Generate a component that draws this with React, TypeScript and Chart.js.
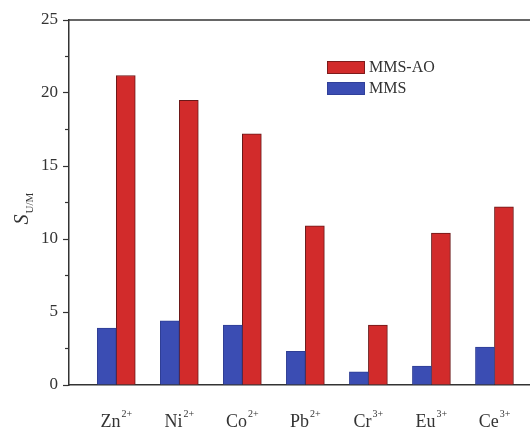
import React, { useEffect, useRef } from "react";
import { Chart, registerables } from "chart.js";

Chart.register(...registerables);

// Metal ions (element symbol + charge shown as superscript)
const metals = ["Zn", "Ni", "Co", "Pb", "Cr", "Eu", "Ce"];
const charges = ["2+", "2+", "2+", "2+", "3+", "3+", "3+"];

// Selectivity coefficients S(U/M)
const mmsValues = [3.9, 4.4, 4.1, 2.3, 0.9, 1.3, 2.6];
const mmsAoValues = [21.2, 19.5, 17.2, 10.9, 4.1, 10.4, 12.2];

const yTicks = [0, 5, 10, 15, 20, 25];
const yMinorTicks = [2.5, 7.5, 12.5, 17.5, 22.5];

const seriesLabels = ["MMS", "MMS-AO"];
const RED = "#d22b2b";
const RED_EDGE = "#6a1818";
const BLUE = "#3b4db3";
const BLUE_EDGE = "#2f3e94";
const INK = "#333333";
const SERIF = "'Liberation Serif', 'Times New Roman', serif";

const decorPlugin = {
  id: "decor",
  afterDraw(chart: any) {
    const { ctx, chartArea, scales } = chart;
    const xs = scales.x;
    const ys = scales.y;
    ctx.save();

    // frame line along the top of the plot area
    ctx.strokeStyle = INK;
    ctx.lineWidth = 1.5;
    ctx.beginPath();
    ctx.moveTo(chartArea.left, chartArea.top);
    ctx.lineTo(chartArea.right, chartArea.top);
    ctx.stroke();

    // minor ticks on the y axis
    ctx.lineWidth = 1.2;
    yMinorTicks.forEach((v) => {
      const y = ys.getPixelForValue(v);
      ctx.beginPath();
      ctx.moveTo(chartArea.left - 4, y);
      ctx.lineTo(chartArea.left, y);
      ctx.stroke();
    });

    // category labels with superscript charges
    ctx.fillStyle = INK;
    ctx.textBaseline = "alphabetic";
    ctx.textAlign = "left";
    const baseFont = `18px ${SERIF}`;
    const supFont = `10px ${SERIF}`;
    const baseY = 427;
    metals.forEach((m, i) => {
      const cx = xs.getPixelForValue(i + 1);
      ctx.font = baseFont;
      const wb = ctx.measureText(m).width;
      ctx.font = supFont;
      const ws = ctx.measureText(charges[i]).width;
      const start = cx - (wb + ws + 1) / 2;
      ctx.font = baseFont;
      ctx.fillText(m, start, baseY);
      ctx.font = supFont;
      ctx.fillText(charges[i], start + wb + 1, baseY - 10);
    });

    // y axis title: italic S with subscript U/M, rotated
    ctx.save();
    const sFont = `italic 20px ${SERIF}`;
    const subFont = `11px ${SERIF}`;
    ctx.font = sFont;
    const wS = ctx.measureText("S").width;
    ctx.font = subFont;
    const wSub = ctx.measureText("U/M").width;
    const total = wS + 1 + wSub;
    const cy = (chartArea.top + chartArea.bottom) / 2 + 6;
    ctx.translate(28, cy + total / 2);
    ctx.rotate(-Math.PI / 2);
    ctx.font = sFont;
    ctx.fillText("S", 0, 0);
    ctx.font = subFont;
    ctx.fillText("U/M", wS + 1, 5);
    ctx.restore();

    // legend inside the plot area, MMS-AO listed first
    const entries = [
      { label: seriesLabels[1], fill: RED, edge: RED_EDGE },
      { label: seriesLabels[0], fill: BLUE, edge: BLUE_EDGE },
    ];
    ctx.font = `16px ${SERIF}`;
    ctx.textBaseline = "middle";
    entries.forEach((e, k) => {
      const top = 61 + k * 21;
      ctx.fillStyle = e.fill;
      ctx.fillRect(327, top, 38, 13);
      ctx.strokeStyle = e.edge;
      ctx.lineWidth = 0.8;
      ctx.strokeRect(327.5, top + 0.5, 37, 12);
      ctx.fillStyle = INK;
      ctx.fillText(e.label, 369, top + 7);
    });

    ctx.restore();
  },
};

export default function App() {
  const canvasRef = useRef<HTMLCanvasElement | null>(null);

  useEffect(() => {
    if (!canvasRef.current) return;
    const chart = new Chart(canvasRef.current, {
      type: "bar",
      data: {
        datasets: [
          {
            label: seriesLabels[0],
            data: mmsValues.map((v, i) => ({ x: i + 1, y: v })),
            backgroundColor: BLUE,
            borderColor: BLUE_EDGE,
            borderWidth: 1,
            barThickness: 19,
          },
          {
            label: seriesLabels[1],
            data: mmsAoValues.map((v, i) => ({ x: i + 1, y: v })),
            backgroundColor: RED,
            borderColor: RED_EDGE,
            borderWidth: 1,
            barThickness: 19,
          },
        ],
      },
      options: {
        responsive: false,
        animation: false,
        layout: { padding: { top: 20, left: 0, right: 0, bottom: 0 } },
        plugins: {
          legend: { display: false },
          tooltip: { enabled: false },
        },
        scales: {
          x: {
            type: "linear",
            min: 0.25,
            max: 8.04,
            offset: false,
            ticks: { display: false, stepSize: 1 },
            grid: { display: false, offset: false },
            border: { display: true, color: INK, width: 1.5 },
            afterFit: (scale: any) => {
              scale.height = 45;
            },
          },
          y: {
            min: 0,
            max: 25,
            afterBuildTicks: (scale: any) => {
              scale.ticks = yTicks.map((v) => ({ value: v }));
            },
            ticks: {
              color: INK,
              padding: 5,
              font: { family: SERIF, size: 17 },
            },
            grid: {
              drawOnChartArea: false,
              drawTicks: true,
              tickLength: 6,
              tickColor: INK,
              tickWidth: 1.2,
            },
            border: { display: true, color: INK, width: 1.5 },
            afterFit: (scale: any) => {
              scale.width = 69;
            },
          },
        },
      },
      plugins: [decorPlugin],
    });
    return () => chart.destroy();
  }, []);

  return (
    <div
      style={{
        position: "fixed",
        left: 0,
        top: 0,
        width: 530,
        height: 430,
        overflow: "hidden",
        background: "#ffffff",
      }}
    >
      <canvas ref={canvasRef} width={560} height={430} style={{ display: "block" }} />
    </div>
  );
}
